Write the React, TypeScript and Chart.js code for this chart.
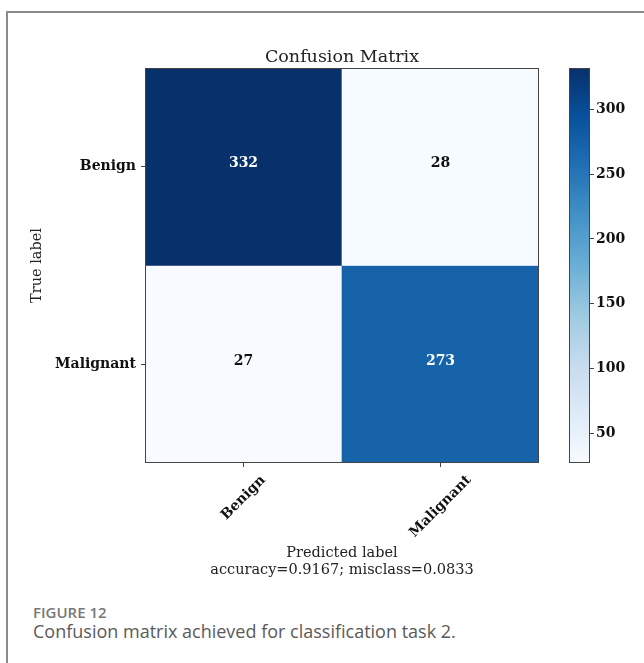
import React, { useEffect, useRef } from 'react';
import { Chart, registerables } from 'chart.js';

Chart.register(...registerables);

// ---- data ----
const PREDICTED_LABELS = ['Benign', 'Malignant'];
const TRUE_LABELS = ['Benign', 'Malignant'];
const ROW_BENIGN = [332, 28];
const ROW_MALIGNANT = [27, 273];
const MATRIX_ROWS = [ROW_BENIGN, ROW_MALIGNANT];
const COLORBAR_TICKS = [50, 100, 150, 200, 250, 300];
const TITLE = 'Confusion Matrix';
const X_TITLE = ['Predicted label', 'accuracy=0.9167; misclass=0.0833'];
const Y_TITLE = 'True label';
const FIGURE_LABEL = 'FIGURE 12';
const CAPTION = 'Confusion matrix achieved for classification task 2.';

const ALL_VALUES = MATRIX_ROWS.flat();
const VMIN = Math.min(...ALL_VALUES);
const VMAX = Math.max(...ALL_VALUES);
const THRESH = VMAX / 2;

// ---- style ----
const BLUES = ['#f7fbff', '#deebf7', '#c6dbef', '#9ecae1', '#6baed6', '#4292c6', '#2171b5', '#08519c', '#08306b'];
const SERIF = '"DejaVu Serif", serif';
const FRAME = '#444444';

function hexToRgb(h: string) {
  const n = parseInt(h.slice(1), 16);
  return [(n >> 16) & 255, (n >> 8) & 255, n & 255];
}
function blues(t: number) {
  t = Math.max(0, Math.min(1, t));
  const p = t * (BLUES.length - 1);
  const i = Math.min(Math.floor(p), BLUES.length - 2);
  const f = p - i;
  const a = hexToRgb(BLUES[i]);
  const b = hexToRgb(BLUES[i + 1]);
  const c = a.map((v, k) => Math.round(v + (b[k] - v) * f));
  return `rgb(${c[0]},${c[1]},${c[2]})`;
}

const matrixPlugin = {
  id: 'matrixDecor',
  afterDatasetsDraw(chart: any) {
    const { ctx, chartArea, scales } = chart;
    const { left, top, right, bottom } = chartArea;
    const x = scales.x;
    const y = scales.y;
    ctx.save();
    // cell values
    ctx.font = `bold 14px ${SERIF}`;
    ctx.textAlign = 'center';
    ctx.textBaseline = 'alphabetic';
    MATRIX_ROWS.forEach((row, i) => {
      row.forEach((v, j) => {
        ctx.fillStyle = v > THRESH ? '#ffffff' : '#111111';
        ctx.fillText(String(v), x.getPixelForValue(j), y.getPixelForValue(i) + 0.5);
      });
    });
    // frame
    ctx.strokeStyle = FRAME;
    ctx.lineWidth = 1;
    ctx.strokeRect(left + 0.5, top + 0.5, right - left - 1, bottom - top - 1);
    // title
    ctx.font = `17.5px ${SERIF}`;
    ctx.fillStyle = '#222222';
    ctx.textBaseline = 'alphabetic';
    ctx.fillText(TITLE, (left + right) / 2, top - 6);
    // rotated x tick labels (centered on tick like matplotlib)
    ctx.font = `bold 14px ${SERIF}`;
    ctx.fillStyle = '#111111';
    ctx.textBaseline = 'middle';
    PREDICTED_LABELS.forEach((lab, j) => {
      const w = ctx.measureText(lab).width;
      const bh = (w + 14) * Math.SQRT1_2;
      const cx = x.getPixelForValue(j);
      const cy = bottom + 10 + bh / 2;
      ctx.save();
      ctx.translate(cx, cy);
      ctx.rotate(-Math.PI / 4);
      ctx.fillText(lab, 0, 0);
      ctx.restore();
    });
    ctx.restore();
  },
};

const colorbarPlugin = {
  id: 'colorbarFrame',
  afterDatasetsDraw(chart: any) {
    const { ctx, chartArea } = chart;
    const { left, top, right, bottom } = chartArea;
    ctx.save();
    ctx.strokeStyle = FRAME;
    ctx.lineWidth = 1;
    ctx.strokeRect(left + 0.5, top + 0.5, right - left - 1, bottom - top - 1);
    ctx.restore();
  },
};

export default function App() {
  const mainRef = useRef<HTMLCanvasElement>(null);
  const cbRef = useRef<HTMLCanvasElement>(null);

  useEffect(() => {
    const main = new Chart(mainRef.current as HTMLCanvasElement, {
      type: 'bar',
      data: {
        labels: PREDICTED_LABELS,
        datasets: MATRIX_ROWS.map((row, i) => ({
          label: TRUE_LABELS[i],
          data: row.map(() => [i - 0.5, i + 0.5]),
          backgroundColor: row.map((v) => blues((v - VMIN) / (VMAX - VMIN))),
          borderWidth: 0,
          grouped: false,
          barPercentage: 1,
          categoryPercentage: 1,
        })) as any,
      },
      options: {
        responsive: false,
        animation: false,
        devicePixelRatio: 1,
        events: [],
        layout: { padding: { top: 68, right: 21, bottom: 0, left: 0 } },
        plugins: { legend: { display: false }, tooltip: { enabled: false }, title: { display: false } },
        scales: {
          x: {
            type: 'category',
            offset: true,
            grid: { offset: false, drawOnChartArea: false, drawTicks: true, tickLength: 4, color: FRAME },
            border: { display: false },
            ticks: { display: false },
            title: {
              display: true,
              text: X_TITLE,
              color: '#222222',
              font: { family: SERIF, size: 14.5, lineHeight: '17px' },
              padding: { top: 0, bottom: 11.5 },
            },
            afterFit: (scale: any) => {
              scale.height = 127;
            },
          },
          y: {
            type: 'linear',
            reverse: true,
            min: -0.5,
            max: 1.5,
            grid: { drawOnChartArea: false, drawTicks: true, tickLength: 4, color: FRAME },
            border: { display: false },
            afterBuildTicks: (scale: any) => {
              scale.ticks = TRUE_LABELS.map((_, i) => ({ value: i }));
            },
            ticks: {
              padding: 5,
              color: '#111111',
              font: { family: SERIF, size: 14, weight: 'bold' },
              callback: (v: any) => TRUE_LABELS[Math.round(Number(v))] ?? '',
            },
            title: {
              display: true,
              text: Y_TITLE,
              color: '#222222',
              font: { family: SERIF, size: 14.5 },
              padding: { top: 28.3, bottom: 0 },
            },
            afterFit: (scale: any) => {
              scale.width = 145;
            },
          },
        },
      } as any,
      plugins: [matrixPlugin],
    });

    const cb = new Chart(cbRef.current as HTMLCanvasElement, {
      type: 'bar',
      data: {
        labels: [''],
        datasets: [
          {
            data: [[VMIN, VMAX]],
            backgroundColor: (c: any) => {
              const area = c.chart.chartArea;
              if (!area) return BLUES[4];
              const g = c.chart.ctx.createLinearGradient(0, area.bottom, 0, area.top);
              BLUES.forEach((col, i) => g.addColorStop(i / (BLUES.length - 1), col));
              return g;
            },
            borderWidth: 0,
            barPercentage: 1,
            categoryPercentage: 1,
          },
        ] as any,
      },
      options: {
        responsive: false,
        animation: false,
        devicePixelRatio: 1,
        events: [],
        layout: { padding: { top: 68, right: 0, bottom: 127, left: 29 } },
        plugins: { legend: { display: false }, tooltip: { enabled: false } },
        scales: {
          x: { type: 'category', display: false },
          y: {
            type: 'linear',
            position: 'right',
            min: VMIN,
            max: VMAX,
            grid: { drawOnChartArea: false, drawTicks: true, tickLength: 4, color: FRAME },
            border: { display: false },
            afterBuildTicks: (scale: any) => {
              scale.ticks = COLORBAR_TICKS.map((v) => ({ value: v }));
            },
            ticks: {
              padding: 2,
              color: '#111111',
              font: { family: SERIF, size: 14, weight: 'bold' },
              callback: (v: any) => String(v),
            },
            afterFit: (scale: any) => {
              scale.width = 54;
            },
          },
        },
      } as any,
      plugins: [colorbarPlugin],
    });

    return () => {
      main.destroy();
      cb.destroy();
    };
  }, []);

  return (
    <div
      style={{
        position: 'absolute',
        left: 0,
        top: 0,
        width: 644,
        height: 663,
        overflow: 'hidden',
        background: '#ffffff',
      }}
    >
      <div
        style={{
          position: 'absolute',
          left: 6,
          top: 11,
          width: 700,
          height: 700,
          border: '2px solid #8a8a8a',
          boxSizing: 'border-box',
        }}
      />
      <canvas
        ref={mainRef}
        width={560}
        height={590}
        style={{ position: 'absolute', left: 0, top: 0, display: 'block' }}
      />
      <canvas
        ref={cbRef}
        width={104}
        height={590}
        style={{ position: 'absolute', left: 540, top: 0, display: 'block' }}
      />
      <div
        style={{
          position: 'absolute',
          left: 33,
          top: 603,
          fontFamily: '"Open Sans", sans-serif',
          fontSize: 15,
          fontWeight: 600,
          lineHeight: '18px',
          color: '#777777',
          whiteSpace: 'nowrap',
        }}
      >
        {FIGURE_LABEL}
      </div>
      <div
        style={{
          position: 'absolute',
          left: 33,
          top: 620,
          fontFamily: '"Open Sans", sans-serif',
          fontSize: 18,
          lineHeight: '22px',
          color: '#5a5a5a',
          whiteSpace: 'nowrap',
        }}
      >
        {CAPTION}
      </div>
    </div>
  );
}
